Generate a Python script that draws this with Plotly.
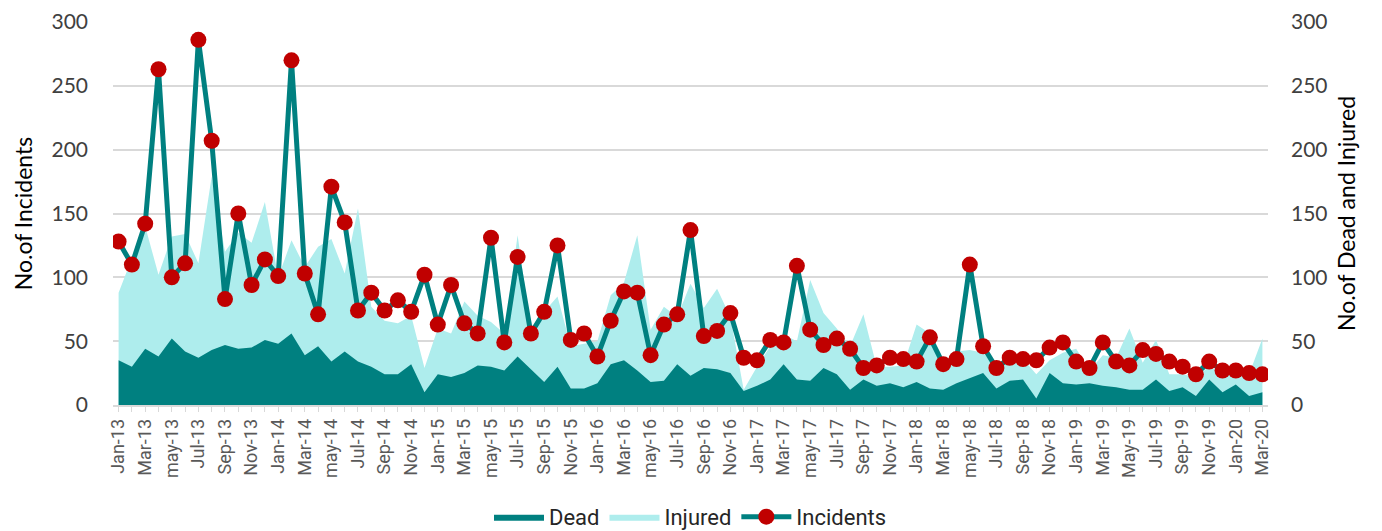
import plotly.graph_objects as go

months = ["Jan", "Feb", "Mar", "Apr", "may", "Jun", "Jul", "Aug", "Sep", "Oct", "Nov", "Dec"]
categories = []
for yr in range(13, 21):
    for m in months:
        lab = m
        if yr == 19 and m == "may":
            lab = "May"
        categories.append(f"{lab}-{yr}")
categories = categories[:87]  # Jan-13 .. Mar-20

incidents = [128, 110, 142, 263, 100, 111, 286, 207, 83, 150, 94, 114,
             101, 270, 103, 71, 171, 143, 74, 88, 74, 82, 73, 102,
             63, 94, 64, 56, 131, 49, 116, 56, 73, 125, 51, 56,
             38, 66, 89, 88, 39, 63, 71, 137, 54, 58, 72, 37,
             35, 51, 49, 109, 59, 47, 52, 44, 29, 31, 37, 36,
             34, 53, 32, 36, 110, 46, 29, 37, 36, 35, 45, 49,
             34, 29, 49, 34, 31, 43, 40, 34, 30, 24, 34, 27,
             27, 25, 24]

dead = [35, 30, 44, 38, 52, 42, 37, 43, 47, 44, 45, 51,
        48, 56, 39, 46, 34, 42, 34, 30, 24, 24, 32, 10,
        24, 22, 25, 31, 30, 27, 38, 28, 18, 30, 13, 13,
        17, 32, 35, 27, 18, 19, 32, 23, 29, 28, 25, 11,
        15, 20, 32, 20, 19, 29, 24, 12, 20, 15, 17, 14,
        18, 13, 12, 17, 21, 25, 13, 19, 20, 5, 25, 17,
        16, 17, 15, 14, 12, 12, 20, 11, 14, 7, 20, 10,
        16, 7, 10]

injured = [88, 115, 140, 102, 132, 134, 111, 179, 120, 135, 127, 159,
           100, 129, 108, 124, 130, 103, 154, 77, 66, 64, 70, 29,
           60, 56, 81, 70, 65, 56, 133, 59, 73, 85, 46, 48,
           50, 86, 96, 133, 59, 77, 69, 95, 76, 91, 69, 12,
           30, 46, 55, 50, 98, 72, 60, 46, 71, 30, 30, 31,
           63, 56, 30, 42, 43, 41, 30, 37, 36, 24, 35, 41,
           44, 27, 39, 37, 60, 33, 51, 24, 24, 22, 30, 25,
           27, 24, 52]

x_idx = list(range(len(categories)))
tick_idx = x_idx[::2]
tick_text = [categories[i] for i in tick_idx]

DARK = "#008080"
LIGHT = "#AEEDED"
RED = "#C00000"

fig = go.Figure()
fig.add_trace(go.Scatter(
    x=x_idx, y=injured, name="Injured", mode="lines", fill="tozeroy",
    line=dict(width=0, color=LIGHT), fillcolor=LIGHT, yaxis="y",
    legendrank=2, hoverinfo="skip"))
fig.add_trace(go.Scatter(
    x=x_idx, y=dead, name="Dead", mode="lines", fill="tozeroy",
    line=dict(width=0, color=DARK), fillcolor=DARK, yaxis="y",
    legendrank=1, hoverinfo="skip"))
fig.add_trace(go.Scatter(
    x=x_idx, y=incidents, name="Incidents", mode="lines+markers",
    line=dict(width=5, color=DARK),
    marker=dict(size=16, color=RED, line=dict(width=0)),
    yaxis="y2", legendrank=3))

# page body has an 8px margin: figure is placed at (8,8)
fig.update_layout(
    width=1366, height=523,
    margin=dict(l=105, r=106, t=14, b=126, autoexpand=False),
    paper_bgcolor="white", plot_bgcolor="white",
    font=dict(family="Lato, Roboto, sans-serif", color="#404040"),
    showlegend=True,
    legend=dict(orientation="h", x=0.5, xanchor="center", y=-0.292, yanchor="middle",
                font=dict(size=22, color="#262626", family="Roboto, sans-serif"),
                itemwidth=50, traceorder="normal"),
    xaxis=dict(
        range=[-0.42, 86.42], tickmode="array", tickvals=tick_idx, ticktext=tick_text,
        tickangle=-90, tickfont=dict(size=18, color="#595959", family="Roboto, sans-serif"),
        showgrid=False, showline=True, linecolor="#D9D9D9", linewidth=1.5,
        ticks="outside", ticklen=5, tickcolor="#D9D9D9",
        minor=dict(ticks="outside", dtick=1, ticklen=5, tickcolor="#D9D9D9"),
        zeroline=False, automargin=False),
    yaxis=dict(
        range=[0, 300], dtick=50, side="right",
        title=dict(text="No.of Dead and Injured", font=dict(size=23, color="#000000"), standoff=12),
        tickfont=dict(size=21, color="#404040"),
        showgrid=True, gridcolor="#D9D9D9", gridwidth=1.5,
        zeroline=False, ticks="", ticklabelstandoff=22, automargin=False),
    yaxis2=dict(
        range=[0, 300], dtick=50, side="left", overlaying="y",
        title=dict(text="No.of Incidents", font=dict(size=23, color="#000000"), standoff=12),
        tickfont=dict(size=21, color="#404040"),
        showgrid=False, zeroline=False, ticks="", ticklabelstandoff=24, automargin=False),
)

fig.write_html("out.html")
